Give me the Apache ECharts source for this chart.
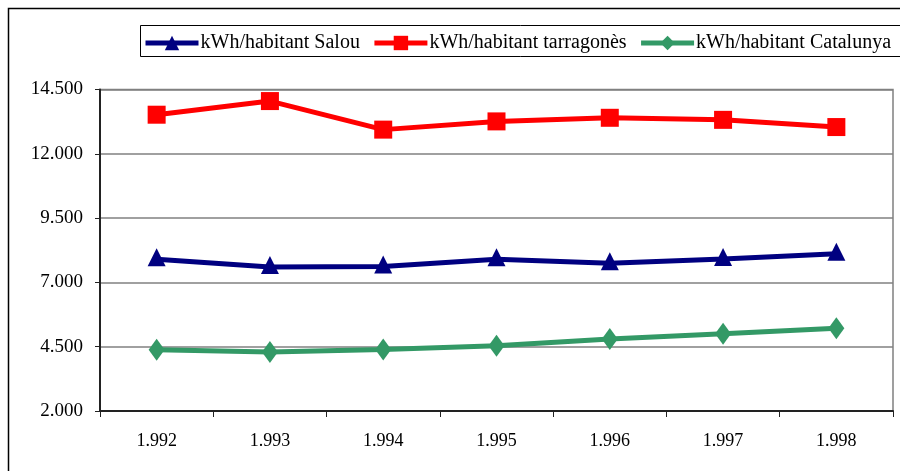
<!DOCTYPE html>
<html>
<head>
<meta charset="utf-8">
<script src="https://cdn.jsdelivr.net/npm/echarts@6/dist/echarts.min.js"></script>
<style>
    html, body { margin: 0; padding: 0; background: #fff; }
    #chart { width: 900px; height: 471px; }
</style>
</head>
<body>
<div id="chart"></div>
<script>
//数据
const years = ['1.992', '1.993', '1.994', '1.995', '1.996', '1.997', '1.998'];
const salou = [7900, 7600, 7620, 7900, 7740, 7910, 8110];
const tarragones = [13520, 14050, 12940, 13260, 13400, 13320, 13040];
const catalunya = [4380, 4290, 4390, 4540, 4800, 5000, 5220];
const yTicks = [2000, 4500, 7000, 9500, 12000, 14500];

const serif = '"Liberation Serif", "DejaVu Serif", serif';

//千位分隔
function fmt(v) {
    return String(v).replace(/\B(?=(\d{3})+(?!\d))/g, '.');
}

let chart = echarts.init(document.getElementById('chart'));

let option = {
    animation: false,
    backgroundColor: '#fff',
    graphic: [
        {
            type: 'rect',
            shape: { x: 8.5, y: 8.5, width: 1000, height: 1000 },
            style: { fill: 'none', stroke: '#000', lineWidth: 1.5 },
            z: 0
        },
        {
            type: 'rect',
            shape: { x: 140.5, y: 25.5, width: 1000, height: 31 },
            style: { fill: '#fff', stroke: '#000', lineWidth: 1 },
            z: 0
        }
    ],
    legend: {
        left: 138,
        top: 28,
        itemWidth: 53,
        itemHeight: 18,
        itemGap: 12,
        lineStyle: { width: 5 },
        textStyle: {
            fontFamily: serif,
            fontSize: 20,
            color: '#000',
            padding: [0, 0, 0, -3]
        },
        data: ['kWh/habitant Salou', 'kWh/habitant tarragonès', 'kWh/habitant Catalunya']
    },
    grid: {
        left: 100,
        right: 7,
        top: 89.5,
        bottom: 60,
        show: true,
        borderColor: '#808080',
        borderWidth: 1.5
    },
    xAxis: {
        type: 'category',
        data: years,
        boundaryGap: true,
        axisLine: { lineStyle: { color: '#222', width: 2 } },
        axisTick: { show: true, length: 6, inside: false, lineStyle: { color: '#222', width: 1 } },
        axisLabel: {
            margin: 21,
            fontFamily: serif,
            fontSize: 18,
            color: '#000'
        },
        splitLine: { show: false }
    },
    yAxis: {
        type: 'value',
        min: yTicks[0],
        max: yTicks[yTicks.length - 1],
        interval: 2500,
        axisLine: { show: true, lineStyle: { color: '#222', width: 2 } },
        axisTick: { show: true, length: 5, lineStyle: { color: '#222', width: 1 } },
        axisLabel: {
            margin: 17,
            fontFamily: serif,
            fontSize: 19,
            color: '#000',
            formatter: fmt
        },
        splitLine: { show: true, lineStyle: { color: '#808080', width: 1.5 } }
    },
    series: [
        {
            name: 'kWh/habitant Salou',
            type: 'line',
            data: salou,
            symbol: 'triangle',
            symbolSize: 18,
            symbolOffset: [0, -2],
            color: '#000080',
            lineStyle: { width: 5, color: '#000080' },
            itemStyle: { color: '#000080' }
        },
        {
            name: 'kWh/habitant tarragonès',
            type: 'line',
            data: tarragones,
            symbol: 'rect',
            symbolSize: 18,
            color: '#ff0000',
            lineStyle: { width: 5, color: '#ff0000' },
            itemStyle: { color: '#ff0000' }
        },
        {
            name: 'kWh/habitant Catalunya',
            type: 'line',
            data: catalunya,
            symbol: 'diamond',
            symbolSize: [16, 22],
            color: '#339966',
            lineStyle: { width: 5, color: '#339966' },
            itemStyle: { color: '#339966' }
        }
    ]
};

chart.setOption(option);
</script>
</body>
</html>
